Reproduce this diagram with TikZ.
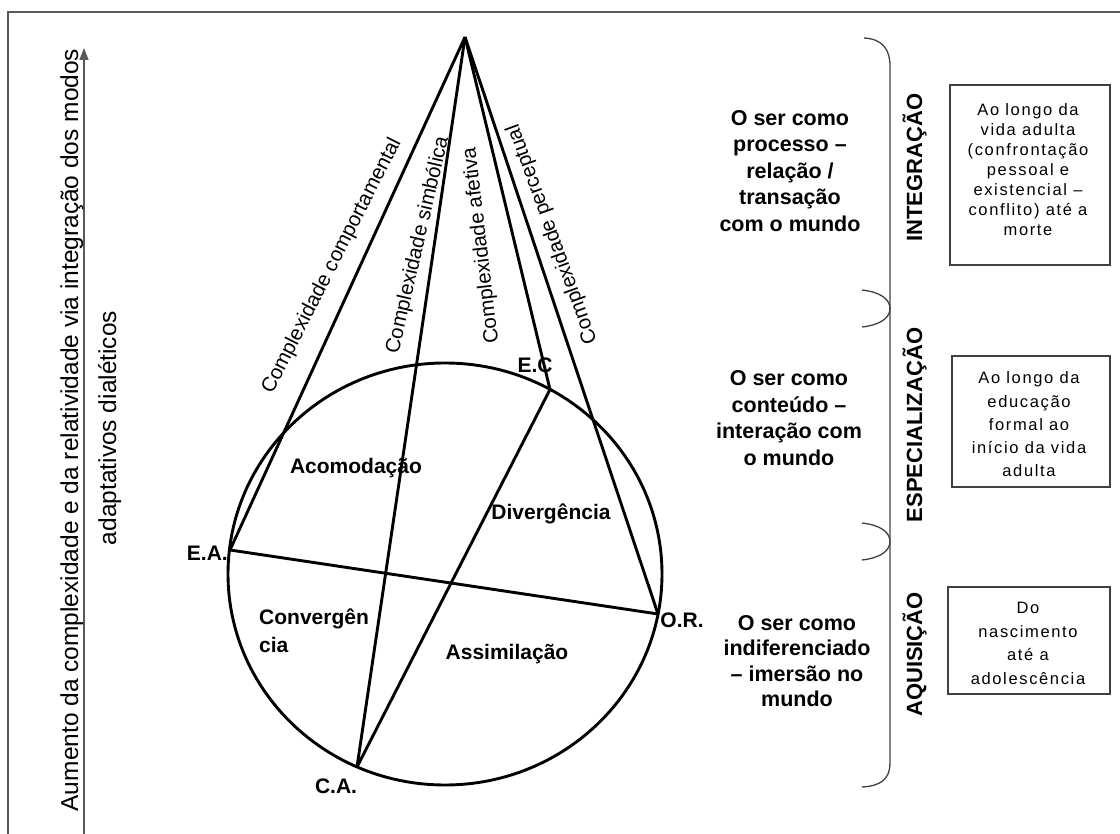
\documentclass[tikz,border=0pt]{standalone}
\usepackage{fontspec}
\setmainfont{Liberation Sans}
\newfontfamily\spacedfont{Liberation Sans}[LetterSpace=10]
\usetikzlibrary{arrows.meta}

\begin{document}
\begin{tikzpicture}[x=1pt,y=-1pt,
  heavy/.style={line width=2.9pt, black},
  frameline/.style={line width=1.2pt, draw=black!65},
  bracket/.style={line width=1.3pt, draw=black!75},
  axisarrow/.style={line width=1.6pt, draw=black!65, -{Triangle[length=12pt,width=9pt]}},
  ptlabel/.style={font=\fontsize{21}{25}\selectfont\bfseries, inner sep=0pt},
  region/.style={font=\fontsize{21}{28}\selectfont\bfseries, inner sep=0pt, align=left},
  conelabel/.style={font=\fontsize{20.5}{24}\selectfont, inner sep=0pt},
  sidetext/.style={font=\fontsize{24.5}{30}\selectfont, rotate=90, anchor=base, inner sep=0pt},
  selftext/.style={font=\fontsize{21.5}{26.6}\selectfont\bfseries, align=center, inner sep=0pt},
  stage/.style={font=\fontsize{22}{26}\selectfont\bfseries, rotate=90, anchor=base, inner sep=0pt},
  agebox/.style={draw=black!75, line width=1.1pt, inner sep=0pt},
  agetext/.style={font=\spacedfont\fontsize{16.5}{20}\selectfont, align=center, inner sep=0pt}
]
\useasboundingbox (0,0) rectangle (1120,834);

% outer frame (runs off the right and bottom edges)
\coordinate (fbl) at (8,834);
\coordinate (ftl) at (8,12);
\coordinate (ftr) at (1120,12);
\draw[frameline] (fbl) -- (ftl) -- (ftr);

% vertical axis arrow and its caption
\coordinate (axbase) at (84,834);
\coordinate (axtip) at (84,48);
\draw[axisarrow] (axbase) -- (axtip);
\node[sidetext] (axlab1) at (78,430) {Aumento da complexidade e da relatividade via integração dos modos};
\node[sidetext] (axlab2) at (116,428) {adaptativos dialéticos};

% cone apex and the four modes on the circle
\coordinate (apex) at (465,37);
\coordinate (EA) at (230,550);
\coordinate (OR) at (658,614);
\coordinate (CA) at (357,767);
\coordinate (EC) at (550,389.5);
\coordinate (ctr) at (445,574);

\draw[heavy] (ctr) ellipse [x radius=217pt, y radius=211pt];
\draw[heavy] (apex) -- (EA);
\draw[heavy] (apex) -- (CA);
\draw[heavy] (apex) -- (EC);
\draw[heavy] (apex) -- (OR);
\draw[heavy] (EA) -- (OR);
\draw[heavy] (CA) -- (EC);

% cone labels
\node[conelabel, rotate=63] (cmp) at (332,266) {Complexidade comportamental};
\node[conelabel, rotate=77] (sim) at (418,245) {Complexidade simbólica};
\node[conelabel, rotate=96.7] (afe) at (481.5,245.5) {Complexidade afetiva};
\node[conelabel, rotate=110] (per) at (552.5,234) {Complexidade perceptual};

% mode labels
\node[ptlabel, anchor=east] (lEA) at (228,553) {E.A.};
\node[ptlabel] (lCA) at (336,786) {C.A.};
\node[ptlabel] (lEC) at (535,365) {E.C};
\node[ptlabel] (lOR) at (682,620) {O.R.};

% learning styles
\node[region] (aco) at (356,468) {Acomodação};
\node[region] (div) at (551,514) {Divergência};
\node[region] (ass) at (507,654) {Assimilação};
\node[region, anchor=west] (con) at (259,631) {Convergên\\cia};

% self descriptions
\node[selftext] (self1) at (790,171) {O ser como\\processo –\\relação /\\transação\\com o mundo};
\node[selftext] (self2) at (789,418) {O ser como\\conteúdo –\\interação com\\o mundo};
\node[selftext, font=\fontsize{21.5}{25.3}\selectfont\bfseries] (self3) at (797,661) {O ser como\\indiferenciado\\– imersão no\\mundo};

% bracket with stage dividers
\coordinate (bt) at (864,38);
\coordinate (btv) at (890,66);
\coordinate (bbv) at (890,763);
\coordinate (bb) at (862,787);
\draw[bracket] (bt) .. controls (883,39) and (890,50) .. (btv) -- (bbv)
  .. controls (890,778) and (882,786) .. (bb);
\coordinate (d1a) at (862,290);
\coordinate (d1m) at (890,308.5);
\coordinate (d1b) at (862,327);
\draw[bracket] (d1a) .. controls (880,292) and (890,299) .. (d1m)
  .. controls (890,318) and (880,325) .. (d1b);
\coordinate (d2a) at (862,523);
\coordinate (d2m) at (890,541.5);
\coordinate (d2b) at (862,560);
\draw[bracket] (d2a) .. controls (880,525) and (890,532) .. (d2m)
  .. controls (890,551) and (880,558) .. (d2b);

% stage names
\node[stage] (stI) at (922,167.5) {INTEGRAÇÃO};
\node[stage] (stE) at (922,425) {ESPECIALIZAÇÃO};
\node[stage] (stA) at (922,654.5) {AQUISIÇÃO};

% age ranges
\node[agebox, minimum width=160pt, minimum height=180pt] (box1) at (1030,175) {};
\node[agebox, minimum width=158pt, minimum height=131pt] (box2) at (1031,421.5) {};
\node[agebox, minimum width=162pt, minimum height=107pt] (box3) at (1029,640.5) {};
\node[agetext] (age1) at (1028,169.5) {Ao longo da\\vida adulta\\(confrontação\\pessoal e\\existencial –\\conflito) até a\\morte};
\node[agetext, font=\spacedfont\fontsize{16.5}{23.3}\selectfont] (age2) at (1029,424.5) {Ao longo da\\educação\\formal ao\\início da vida\\adulta};
\node[agetext, font=\spacedfont\fontsize{16.5}{23.5}\selectfont] (age3) at (1028,643.5) {Do\\nascimento\\até a\\adolescência};
\end{tikzpicture}
\end{document}
